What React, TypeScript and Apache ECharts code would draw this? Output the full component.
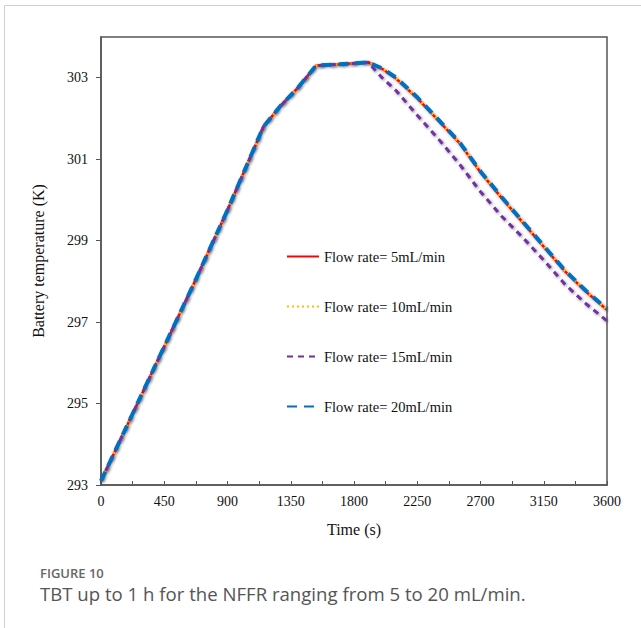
import React, { useEffect, useRef } from "react";
import * as echarts from "echarts";

const timeS = [0, 225, 450, 675, 900, 1156, 1275, 1400, 1530, 1700, 1900, 2000, 2100, 2250, 2400, 2550, 2700, 2850, 3000, 3150, 3300, 3450, 3600];

const temp5 = [293.1, 294.75, 296.4, 298.05, 299.75, 301.8, 302.3, 302.75, 303.3, 303.33, 303.38, 303.22, 302.98, 302.5, 301.95, 301.4, 300.68, 300.05, 299.45, 298.85, 298.25, 297.75, 297.3];
const temp10 = [293.1, 294.75, 296.4, 298.05, 299.75, 301.8, 302.3, 302.75, 303.3, 303.33, 303.38, 303.23, 302.99, 302.51, 301.96, 301.41, 300.69, 300.06, 299.46, 298.86, 298.26, 297.76, 297.31];
const temp15 = [293.1, 294.75, 296.4, 298.05, 299.75, 301.8, 302.3, 302.75, 303.3, 303.33, 303.38, 303.0, 302.68, 302.08, 301.5, 300.88, 300.2, 299.6, 299.08, 298.52, 297.93, 297.45, 297.03];
const temp20 = [293.1, 294.75, 296.4, 298.05, 299.75, 301.8, 302.3, 302.75, 303.3, 303.33, 303.38, 303.23, 303.0, 302.52, 301.97, 301.42, 300.7, 300.07, 299.47, 298.87, 298.27, 297.77, 297.32];

const seriesNames = ["Flow rate= 5mL/min", "Flow rate= 10mL/min", "Flow rate= 15mL/min", "Flow rate= 20mL/min"];

const serif = "'Liberation Serif', 'Times New Roman', serif";

export default function App() {
  const ref = useRef<HTMLDivElement>(null);
  useEffect(() => {
    if (!ref.current) return;
    const chart = echarts.init(ref.current, null, { renderer: "svg" });
    const pair = (arr: number[]) => timeS.map((t, i) => [t, arr[i]]);
    const shadow = { shadowColor: "rgba(0,0,0,0.45)", shadowBlur: 3, shadowOffsetX: 1, shadowOffsetY: 1 };
    chart.setOption({
      animation: false,
      backgroundColor: "#fff",
      grid: { left: 101, right: 34, top: 37, bottom: 143, show: true, borderColor: "#555", borderWidth: 1.5, backgroundColor: "transparent" },
      legend: {
        left: 286,
        top: 249,
        padding: 0,
        orient: "vertical",
        itemWidth: 32,
        itemHeight: 14,
        itemGap: 35,
        data: seriesNames,
        itemStyle: { opacity: 0 },
        textStyle: { fontFamily: serif, fontSize: 14.5, color: "#111" },
      },
      xAxis: {
        type: "value",
        min: 0,
        max: 3600,
        interval: 450,
        name: "Time (s)",
        nameLocation: "middle",
        nameGap: 36,
        nameTextStyle: { fontFamily: serif, fontSize: 16, color: "#111" },
        axisLine: { lineStyle: { color: "#555", width: 1.5 } },
        axisTick: { inside: true, length: 4, lineStyle: { color: "#555" } },
        minorTick: { show: true, splitNumber: 2, length: 4, lineStyle: { color: "#555" } },
        splitLine: { show: false },
        axisLabel: { fontFamily: serif, fontSize: 14, color: "#111", margin: 9, formatter: (v: number) => String(v) },
      },
      yAxis: {
        type: "value",
        min: 293,
        max: 304,
        interval: 2,
        name: "Battery temperature (K)",
        nameLocation: "middle",
        nameGap: 55,
        nameTextStyle: { fontFamily: serif, fontSize: 16, color: "#111" },
        axisLine: { show: true, lineStyle: { color: "#555", width: 1.5 } },
        axisTick: { show: true, length: 5, lineStyle: { color: "#555" } },
        splitLine: { show: false },
        axisLabel: { fontFamily: serif, fontSize: 14, color: "#111", margin: 13, showMaxLabel: false, formatter: (v: number) => String(v) },
      },
      series: [
        { name: seriesNames[0], type: "line", data: pair(temp5), symbol: "none", lineStyle: { color: "#ff0000", width: 2.5, type: "solid", ...shadow }, itemStyle: { color: "#ff0000" } },
        { name: seriesNames[1], type: "line", data: pair(temp10), symbol: "none", lineStyle: { color: "#ffc000", width: 2.5, type: [2, 3] }, itemStyle: { color: "#ffc000" } },
        { name: seriesNames[2], type: "line", data: pair(temp15), symbol: "none", lineStyle: { color: "#7030a0", width: 3, type: [6, 5], ...shadow }, itemStyle: { color: "#7030a0" } },
        { name: seriesNames[3], type: "line", data: pair(temp20), symbol: "none", lineStyle: { color: "#0070c0", width: 4, type: [10, 7] }, itemStyle: { color: "#0070c0" } },
      ],
      graphic: [
        { type: "rect", shape: { x: 4.5, y: 5.5, width: 700, height: 700 }, style: { fill: "none", stroke: "#d0d0d0", lineWidth: 1 }, silent: true },
        { type: "text", left: 40, top: 565, style: { text: "FIGURE 10", fontFamily: "'Open Sans', sans-serif", fontSize: 13, fontWeight: 600, fill: "#666", lineHeight: 15 } },
        { type: "text", left: 40, top: 583, style: { text: "TBT up to 1 h for the NFFR ranging from 5 to 20 mL/min.", fontFamily: "'Open Sans', sans-serif", fontSize: 18.6, fill: "#555", lineHeight: 20 } },
      ],
    });
    return () => chart.dispose();
  }, []);
  return <div ref={ref} style={{ position: "absolute", left: 0, top: 0, width: 641, height: 628 }} />;
}
